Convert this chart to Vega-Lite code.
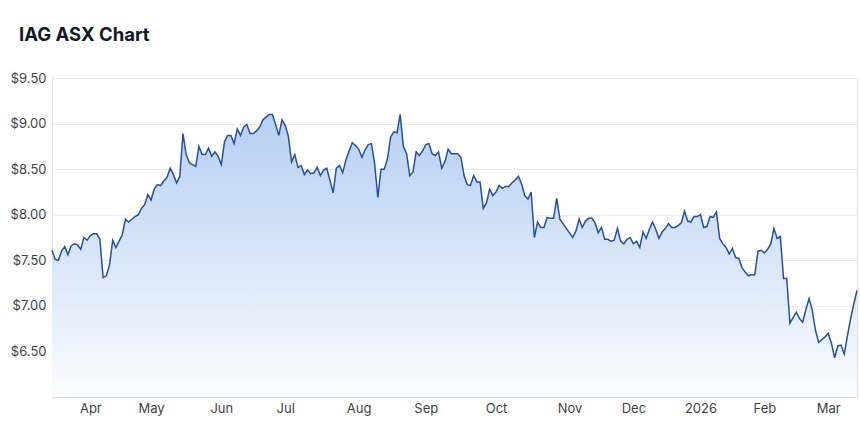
{
"$schema":"https://vega.github.io/schema/vega-lite/v6.json",
"width":805,"height":319,
"autosize":{"type":"none"},
"padding":{"left":52,"top":78,"right":3,"bottom":28},
"background":"white",
"title":{"text":"IAG ASX Chart","anchor":"start","frame":"group","dx":-33,"offset":28,"font":"Inter","fontSize":18.5,"fontWeight":"bold","color":"#111827"},
"config":{"view":{"stroke":"#e2e2e2"},"axis":{"labelFont":"Inter","labelFontSize":13,"labelColor":"#3f3f46","gridColor":"#ebebeb","domain":false,"ticks":false}},
"data":{"values":[
{"d":"2025-03-14","p":7.61},{"d":"2025-03-17","p":7.51},{"d":"2025-03-18","p":7.50},{"d":"2025-03-19","p":7.60},{"d":"2025-03-20","p":7.65},{"d":"2025-03-21","p":7.56},{"d":"2025-03-24","p":7.66},{"d":"2025-03-25","p":7.68},{"d":"2025-03-26","p":7.67},{"d":"2025-03-27","p":7.62},{"d":"2025-03-28","p":7.75},{"d":"2025-03-31","p":7.72},
{"d":"2025-04-01","p":7.77},{"d":"2025-04-02","p":7.79},{"d":"2025-04-03","p":7.79},{"d":"2025-04-04","p":7.73},{"d":"2025-04-07","p":7.31},{"d":"2025-04-08","p":7.33},{"d":"2025-04-09","p":7.45},{"d":"2025-04-10","p":7.72},{"d":"2025-04-11","p":7.64},{"d":"2025-04-14","p":7.71},{"d":"2025-04-15","p":7.78},{"d":"2025-04-16","p":7.95},{"d":"2025-04-17","p":7.92},{"d":"2025-04-22","p":7.95},{"d":"2025-04-23","p":7.98},{"d":"2025-04-24","p":8.00},{"d":"2025-04-28","p":8.07},{"d":"2025-04-29","p":8.11},{"d":"2025-04-30","p":8.22},
{"d":"2025-05-01","p":8.16},{"d":"2025-05-02","p":8.28},{"d":"2025-05-05","p":8.33},{"d":"2025-05-06","p":8.32},{"d":"2025-05-07","p":8.37},{"d":"2025-05-08","p":8.41},{"d":"2025-05-09","p":8.51},{"d":"2025-05-12","p":8.44},{"d":"2025-05-13","p":8.35},{"d":"2025-05-14","p":8.42},{"d":"2025-05-15","p":8.89},{"d":"2025-05-16","p":8.66},{"d":"2025-05-19","p":8.57},{"d":"2025-05-20","p":8.55},{"d":"2025-05-21","p":8.53},{"d":"2025-05-22","p":8.75},{"d":"2025-05-23","p":8.66},{"d":"2025-05-26","p":8.66},{"d":"2025-05-27","p":8.73},{"d":"2025-05-28","p":8.64},{"d":"2025-05-29","p":8.69},{"d":"2025-05-30","p":8.64},
{"d":"2025-06-02","p":8.55},{"d":"2025-06-03","p":8.80},{"d":"2025-06-04","p":8.87},{"d":"2025-06-05","p":8.87},{"d":"2025-06-06","p":8.78},{"d":"2025-06-10","p":8.94},{"d":"2025-06-11","p":8.87},{"d":"2025-06-12","p":8.96},{"d":"2025-06-13","p":8.99},{"d":"2025-06-16","p":8.89},{"d":"2025-06-17","p":8.89},{"d":"2025-06-18","p":8.92},{"d":"2025-06-19","p":8.96},{"d":"2025-06-20","p":9.04},{"d":"2025-06-23","p":9.07},{"d":"2025-06-24","p":9.10},{"d":"2025-06-25","p":9.10},{"d":"2025-06-26","p":8.99},{"d":"2025-06-27","p":8.87},{"d":"2025-06-30","p":9.04},
{"d":"2025-07-01","p":8.98},{"d":"2025-07-02","p":8.86},{"d":"2025-07-03","p":8.58},{"d":"2025-07-04","p":8.66},{"d":"2025-07-07","p":8.52},{"d":"2025-07-08","p":8.54},{"d":"2025-07-09","p":8.44},{"d":"2025-07-10","p":8.49},{"d":"2025-07-11","p":8.45},{"d":"2025-07-14","p":8.46},{"d":"2025-07-15","p":8.52},{"d":"2025-07-16","p":8.43},{"d":"2025-07-17","p":8.49},{"d":"2025-07-18","p":8.51},{"d":"2025-07-21","p":8.38},{"d":"2025-07-22","p":8.24},{"d":"2025-07-23","p":8.51},{"d":"2025-07-24","p":8.54},{"d":"2025-07-25","p":8.46},{"d":"2025-07-28","p":8.60},{"d":"2025-07-29","p":8.70},{"d":"2025-07-30","p":8.79},{"d":"2025-07-31","p":8.76},
{"d":"2025-08-01","p":8.72},{"d":"2025-08-04","p":8.63},{"d":"2025-08-05","p":8.71},{"d":"2025-08-06","p":8.77},{"d":"2025-08-07","p":8.78},{"d":"2025-08-08","p":8.56},{"d":"2025-08-11","p":8.19},{"d":"2025-08-12","p":8.50},{"d":"2025-08-13","p":8.50},{"d":"2025-08-14","p":8.61},{"d":"2025-08-15","p":8.85},{"d":"2025-08-18","p":8.91},{"d":"2025-08-19","p":8.90},{"d":"2025-08-20","p":9.10},{"d":"2025-08-21","p":8.75},{"d":"2025-08-22","p":8.67},{"d":"2025-08-25","p":8.43},{"d":"2025-08-26","p":8.47},{"d":"2025-08-27","p":8.69},{"d":"2025-08-28","p":8.65},{"d":"2025-08-29","p":8.70},
{"d":"2025-09-01","p":8.77},{"d":"2025-09-02","p":8.78},{"d":"2025-09-03","p":8.67},{"d":"2025-09-04","p":8.65},{"d":"2025-09-05","p":8.69},{"d":"2025-09-08","p":8.51},{"d":"2025-09-09","p":8.58},{"d":"2025-09-10","p":8.72},{"d":"2025-09-11","p":8.67},{"d":"2025-09-12","p":8.67},{"d":"2025-09-15","p":8.67},{"d":"2025-09-16","p":8.63},{"d":"2025-09-17","p":8.43},{"d":"2025-09-18","p":8.33},{"d":"2025-09-19","p":8.32},{"d":"2025-09-22","p":8.43},{"d":"2025-09-23","p":8.36},{"d":"2025-09-24","p":8.36},{"d":"2025-09-25","p":8.07},{"d":"2025-09-26","p":8.13},{"d":"2025-09-29","p":8.28},{"d":"2025-09-30","p":8.21},
{"d":"2025-10-01","p":8.25},{"d":"2025-10-02","p":8.32},{"d":"2025-10-03","p":8.29},{"d":"2025-10-06","p":8.31},{"d":"2025-10-07","p":8.31},{"d":"2025-10-08","p":8.35},{"d":"2025-10-09","p":8.38},{"d":"2025-10-10","p":8.42},{"d":"2025-10-13","p":8.34},{"d":"2025-10-14","p":8.21},{"d":"2025-10-15","p":8.17},{"d":"2025-10-16","p":8.25},{"d":"2025-10-17","p":7.75},{"d":"2025-10-20","p":7.92},{"d":"2025-10-21","p":7.86},{"d":"2025-10-22","p":7.86},{"d":"2025-10-23","p":7.97},{"d":"2025-10-24","p":7.96},{"d":"2025-10-27","p":7.96},{"d":"2025-10-28","p":8.18},{"d":"2025-10-29","p":7.95},{"d":"2025-10-30","p":7.90},{"d":"2025-10-31","p":7.85},
{"d":"2025-11-03","p":7.80},{"d":"2025-11-04","p":7.75},{"d":"2025-11-05","p":7.82},{"d":"2025-11-06","p":7.95},{"d":"2025-11-07","p":7.86},{"d":"2025-11-10","p":7.93},{"d":"2025-11-11","p":7.96},{"d":"2025-11-12","p":7.96},{"d":"2025-11-13","p":7.91},{"d":"2025-11-14","p":7.80},{"d":"2025-11-17","p":7.86},{"d":"2025-11-18","p":7.73},{"d":"2025-11-19","p":7.73},{"d":"2025-11-20","p":7.71},{"d":"2025-11-21","p":7.72},{"d":"2025-11-24","p":7.85},{"d":"2025-11-25","p":7.71},{"d":"2025-11-26","p":7.68},{"d":"2025-11-27","p":7.73},{"d":"2025-11-28","p":7.75},
{"d":"2025-12-01","p":7.68},{"d":"2025-12-02","p":7.71},{"d":"2025-12-03","p":7.64},{"d":"2025-12-04","p":7.81},{"d":"2025-12-05","p":7.74},{"d":"2025-12-08","p":7.84},{"d":"2025-12-09","p":7.92},{"d":"2025-12-10","p":7.84},{"d":"2025-12-11","p":7.74},{"d":"2025-12-12","p":7.81},{"d":"2025-12-15","p":7.85},{"d":"2025-12-16","p":7.90},{"d":"2025-12-17","p":7.86},{"d":"2025-12-18","p":7.86},{"d":"2025-12-19","p":7.88},{"d":"2025-12-22","p":7.91},{"d":"2025-12-23","p":8.04},{"d":"2025-12-24","p":7.93},{"d":"2025-12-29","p":7.92},{"d":"2025-12-30","p":7.98},{"d":"2025-12-31","p":7.98},
{"d":"2026-01-02","p":8.00},{"d":"2026-01-05","p":7.86},{"d":"2026-01-06","p":7.87},{"d":"2026-01-07","p":7.98},{"d":"2026-01-08","p":7.97},{"d":"2026-01-09","p":8.03},{"d":"2026-01-12","p":7.74},{"d":"2026-01-13","p":7.68},{"d":"2026-01-14","p":7.64},{"d":"2026-01-15","p":7.57},{"d":"2026-01-16","p":7.63},{"d":"2026-01-19","p":7.53},{"d":"2026-01-20","p":7.52},{"d":"2026-01-21","p":7.42},{"d":"2026-01-22","p":7.37},{"d":"2026-01-23","p":7.33},{"d":"2026-01-27","p":7.34},{"d":"2026-01-28","p":7.34},{"d":"2026-01-29","p":7.60},{"d":"2026-01-30","p":7.61},
{"d":"2026-02-02","p":7.58},{"d":"2026-02-03","p":7.62},{"d":"2026-02-04","p":7.68},{"d":"2026-02-05","p":7.85},{"d":"2026-02-06","p":7.74},{"d":"2026-02-09","p":7.76},{"d":"2026-02-10","p":7.30},{"d":"2026-02-11","p":7.30},{"d":"2026-02-12","p":6.81},{"d":"2026-02-13","p":6.87},{"d":"2026-02-16","p":6.93},{"d":"2026-02-17","p":6.86},{"d":"2026-02-18","p":6.82},{"d":"2026-02-19","p":6.96},{"d":"2026-02-20","p":7.08},{"d":"2026-02-23","p":6.95},{"d":"2026-02-24","p":6.73},{"d":"2026-02-25","p":6.60},{"d":"2026-02-26","p":6.63},{"d":"2026-02-27","p":6.66},
{"d":"2026-03-02","p":6.70},{"d":"2026-03-03","p":6.59},{"d":"2026-03-04","p":6.43},{"d":"2026-03-05","p":6.56},{"d":"2026-03-06","p":6.57},{"d":"2026-03-09","p":6.47},{"d":"2026-03-10","p":6.67},{"d":"2026-03-11","p":6.86},{"d":"2026-03-12","p":7.02},{"d":"2026-03-13","p":7.17}
]},
"encoding":{
"x":{"field":"d","type":"ordinal","scale":{"type":"point","padding":0},"axis":{"title":null,"labelAngle":0,"labelPadding":5,"labelOverlap":false,"values":["2025-04-01","2025-05-01","2025-06-02","2025-07-01","2025-08-01","2025-09-01","2025-10-01","2025-11-03","2025-12-01","2026-01-02","2026-02-02","2026-03-02"],"labelExpr":"slice(datum.value,5,7)=='01' ? slice(datum.value,0,4) : ['','Jan','Feb','Mar','Apr','May','Jun','Jul','Aug','Sep','Oct','Nov','Dec'][toNumber(slice(datum.value,5,7))]"}},
"y":{"field":"p","type":"quantitative","scale":{"domain":[6,9.5],"nice":false,"zero":false},"axis":{"title":null,"values":[6.5,7,7.5,8,8.5,9,9.5],"format":"$.2f","labelPadding":6}}
},
"layer":[
{"mark":{"type":"area","color":{"gradient":"linear","x1":0,"y1":0,"x2":0,"y2":1,"stops":[{"offset":0,"color":"#b6cff2"},{"offset":1,"color":"#fafcff"}]}},"encoding":{"y2":{"datum":6}}},
{"mark":{"type":"line","color":"#2150a6","strokeWidth":1.5},"encoding":{}}
]
}
